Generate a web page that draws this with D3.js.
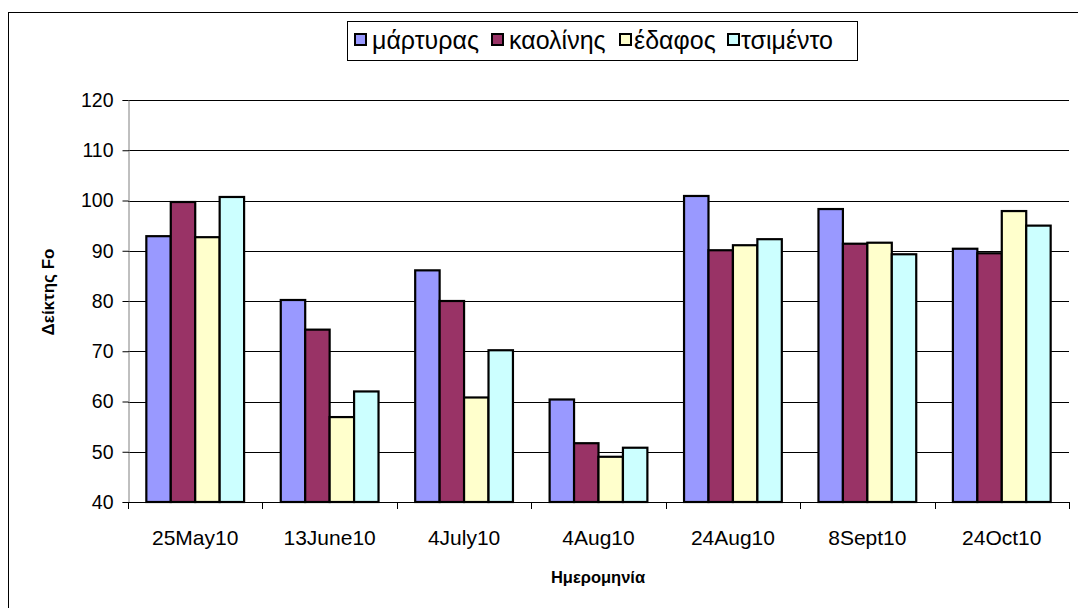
<!DOCTYPE html>
<html>
<head>
<meta charset="utf-8">
<script src="https://cdn.jsdelivr.net/npm/d3@7"></script>
<style>
  html, body { margin: 0; padding: 0; background: #fff; }
  svg { display: block; font-family: "Liberation Sans", Arial, sans-serif; }
</style>
</head>
<body>
<svg id="chart" width="1078" height="608"></svg>
<script>
// Categories (sampling dates) and series
const categories = ["25May10", "13June10", "4July10", "4Aug10", "24Aug10", "8Sept10", "24Oct10"];
const seriesNames = ["μάρτυρας", "καολίνης", "έδαφος", "τσιμέντο"];
const seriesColors = ["#9999FF", "#993366", "#FFFFCC", "#CCFFFF"];

// Fo index per series, one value per date
const martyras = [92.9, 80.2, 86.1, 60.4, 100.9, 98.3, 90.4];
const kaolinis = [99.7, 74.3, 80.0, 51.7, 90.1, 91.4, 89.5];
const edafos   = [92.7, 56.9, 60.8, 49.0, 91.1, 91.6, 97.9];
const tsimento = [100.7, 62.0, 70.2, 50.8, 92.3, 89.3, 95.0];

const yTicks = [40, 50, 60, 70, 80, 90, 100, 110, 120];

const seriesValues = [martyras, kaolinis, edafos, tsimento];

const svg = d3.select("#chart");

// Outer chart frame
svg.append("rect")
  .attr("x", 8.5).attr("y", 12.5)
  .attr("width", 1100).attr("height", 620)
  .attr("fill", "#fff").attr("stroke", "#000").attr("stroke-width", 1);

const plot = { left: 128, right: 1069, top: 100, bottom: 502 };

const x0 = d3.scaleBand()
  .domain(categories)
  .range([plot.left, plot.right])
  .padding(0);

const x1 = d3.scaleBand()
  .domain(seriesNames)
  .range([0, x0.bandwidth()])
  .paddingInner(0)
  .paddingOuter(0.75);

const y = d3.scaleLinear()
  .domain([40, 120])
  .range([plot.bottom, plot.top]);

// Horizontal gridlines
svg.append("g")
  .selectAll("line")
  .data(yTicks.filter(t => t > 40))
  .join("line")
  .attr("x1", plot.left).attr("x2", plot.right)
  .attr("y1", d => Math.round(y(d)) + 0.5).attr("y2", d => Math.round(y(d)) + 0.5)
  .attr("stroke", "#000").attr("stroke-width", 1);

// Y axis
const yAxis = svg.append("g")
  .attr("transform", `translate(${plot.left + 0.5},0)`)
  .call(d3.axisLeft(y).tickValues(yTicks).tickSize(6).tickPadding(0).tickFormat(d3.format("d")));
yAxis.select(".domain").attr("stroke", "#808080");
yAxis.selectAll(".tick line").attr("stroke", "#000");
yAxis.selectAll(".tick text")
  .attr("x", -15)
  .attr("font-size", 19.5).attr("fill", "#000")
  .attr("font-family", "'Liberation Sans', Arial, sans-serif");

// Bars
const groups = svg.append("g")
  .selectAll("g")
  .data(categories.map((c, i) => ({ cat: c, i })))
  .join("g")
  .attr("transform", d => `translate(${x0(d.cat)},0)`);

groups.selectAll("rect")
  .data(d => seriesNames.map((s, k) => ({ s, k, v: seriesValues[k][d.i] })))
  .join("rect")
  .attr("x", d => x1(d.s))
  .attr("y", d => y(d.v))
  .attr("width", x1.bandwidth())
  .attr("height", d => y(40) - y(d.v))
  .attr("fill", d => seriesColors[d.k])
  .attr("stroke", "#000")
  .attr("stroke-width", 2.2);

// X axis line with category-boundary ticks
const xg = svg.append("g");
xg.append("line")
  .attr("x1", plot.left).attr("x2", plot.right)
  .attr("y1", plot.bottom + 0.5).attr("y2", plot.bottom + 0.5)
  .attr("stroke", "#000");
const bounds = categories.map(c => x0(c)).concat([plot.right]);
xg.selectAll("line.tick")
  .data(bounds)
  .join("line")
  .attr("class", "tick")
  .attr("x1", d => Math.round(d) + 0.5).attr("x2", d => Math.round(d) + 0.5)
  .attr("y1", plot.bottom).attr("y2", plot.bottom + 7)
  .attr("stroke", "#000");
xg.selectAll("text")
  .data(categories)
  .join("text")
  .attr("x", d => x0(d) + x0.bandwidth() / 2)
  .attr("y", 545)
  .attr("text-anchor", "middle")
  .attr("font-size", 21)
  .text(d => d);

// Axis titles
svg.append("text")
  .attr("x", 598).attr("y", 583)
  .attr("text-anchor", "middle")
  .attr("font-size", 16.5).attr("font-weight", "bold")
  .text("Ημερομηνία");

svg.append("text")
  .attr("transform", "translate(54,292) rotate(-90)")
  .attr("text-anchor", "middle")
  .attr("font-size", 17).attr("font-weight", "bold")
  .text("Δείκτης Fo");

// Legend
const legend = svg.append("g");
legend.append("rect")
  .attr("x", 347.5).attr("y", 21.5)
  .attr("width", 510).attr("height", 39)
  .attr("fill", "#fff").attr("stroke", "#000");
const legendSwatchX = [355, 492, 620, 728];
const legendTextX = [372, 509, 634, 741];
const li = legend.selectAll("g.item")
  .data(seriesNames.map((s, k) => ({ s, k })))
  .join("g")
  .attr("class", "item");
li.append("rect")
  .attr("x", d => legendSwatchX[d.k]).attr("y", 34)
  .attr("width", 11).attr("height", 11)
  .attr("fill", d => seriesColors[d.k])
  .attr("stroke", "#000").attr("stroke-width", 2);
li.append("text")
  .attr("x", d => legendTextX[d.k]).attr("y", 49)
  .attr("font-size", 25)
  .text(d => d.s);
</script>
</body>
</html>
